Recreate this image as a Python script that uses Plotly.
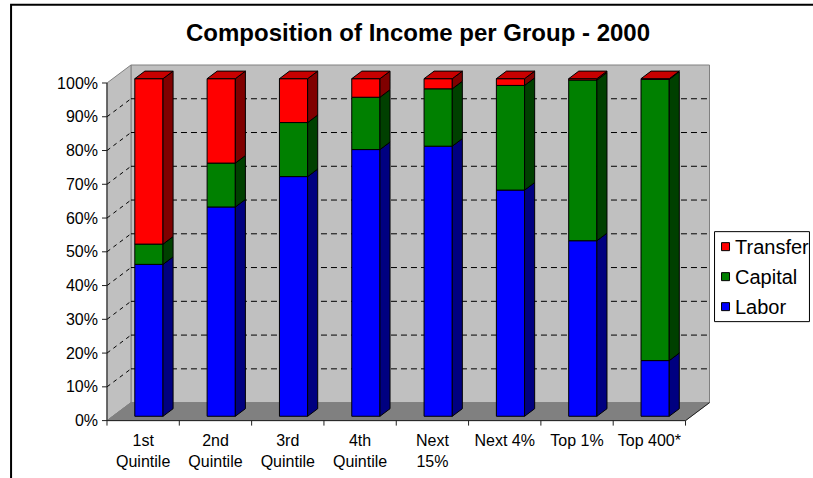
import plotly.graph_objects as go

# ---------------- data ----------------
categories = ["1st<br>Quintile", "2nd<br>Quintile", "3rd<br>Quintile", "4th<br>Quintile",
              "Next<br>15%", "Next 4%", "Top 1%", "Top 400*"]
series_names = ["Labor", "Capital", "Transfer"]
labor = [45, 62, 71, 79, 80, 67, 52, 16.5]
capital = [6, 13, 16, 15.5, 17, 31, 47.6, 83.3]
transfer = [49, 25, 13, 5.5, 3, 2, 0.4, 0.2]
y_tick_values = [0, 10, 20, 30, 40, 50, 60, 70, 80, 90, 100]
y_tick_labels = ["0%", "10%", "20%", "30%", "40%", "50%", "60%", "70%", "80%", "90%", "100%"]
title_text = "Composition of Income per Group - 2000"

# ---------------- style ----------------
front_colors = ["#0000FF", "#008000", "#FF0000"]
side_colors = ["#000080", "#004000", "#800000"]
top_color = "#C80000"
wall_color = "#C0C0C0"
floor_color = "#808080"
FONT = "Liberation Sans, Arial, sans-serif"

W, H = 813, 478
PXX = 72.37   # px per category
PXY = 3.377   # px per percent
X0PX = 107    # pixel of x=-0.5
Y0PX = 421    # pixel of y=0
DX = 24 / PXX
DY = 18 / PXY
F0, F1 = 0.24, 0.66
HW = 0.195
n = len(categories)

XMIN = -0.5 - 8 / PXX
XMAX = n - 0.5 + DX + 1.5 / PXX
YMIN = -8.4 / PXY
YMAX = 100 + DY + 1.0 / PXY
L = X0PX - 8
R = L + (XMAX - XMIN) * PXX
T = Y0PX - YMAX * PXY
B = Y0PX - YMIN * PXY


def px(xp):
    return (xp - L) / (R - L)


def py(yp):
    return (B - yp) / (B - T)


def P(x, y, f):
    return x + f * DX, y + f * DY


def path(pts):
    return "M " + " L ".join(f"{a},{b}" for a, b in pts) + " Z"


fig = go.Figure()

series = [labor, capital, transfer]
cum = [0.0] * n
segs = []
for k, vals in enumerate(series):
    fig.add_trace(go.Bar(
        x=[i + F0 * DX for i in range(n)],
        y=vals,
        base=[c + F0 * DY for c in cum],
        width=2 * HW,
        marker=dict(color=front_colors[k], line=dict(color="black", width=1)),
        name=series_names[k], showlegend=False, hoverinfo="skip"))
    segs.append([(cum[i], cum[i] + vals[i]) for i in range(n)])
    cum = [cum[i] + vals[i] for i in range(n)]

# side faces
for k in range(len(series)):
    xs, ys = [], []
    for i in range(n):
        lo, hi = segs[k][i]
        pts = [P(i + HW, lo, F0), P(i + HW, lo, F1), P(i + HW, hi, F1), P(i + HW, hi, F0), P(i + HW, lo, F0)]
        xs += [p[0] for p in pts] + [None]
        ys += [p[1] for p in pts] + [None]
    fig.add_trace(go.Scatter(x=xs, y=ys, mode="lines", fill="toself", fillcolor=side_colors[k],
                             line=dict(color="black", width=1), showlegend=False, hoverinfo="skip"))

# top faces
xs, ys = [], []
for i in range(n):
    t = cum[i]
    pts = [P(i - HW, t, F0), P(i + HW, t, F0), P(i + HW, t, F1), P(i - HW, t, F1), P(i - HW, t, F0)]
    xs += [p[0] for p in pts] + [None]
    ys += [p[1] for p in pts] + [None]
fig.add_trace(go.Scatter(x=xs, y=ys, mode="lines", fill="toself", fillcolor=top_color,
                         line=dict(color="black", width=1), showlegend=False, hoverinfo="skip"))

shapes = []
xl, xr = -0.5, n - 0.5
# walls
shapes.append(dict(type="path", path=path([P(xl, 0, 1), P(xr, 0, 1), P(xr, 100, 1), P(xl, 100, 1)]),
                   fillcolor=wall_color, line=dict(color="#808080", width=1), layer="below"))
shapes.append(dict(type="path", path=path([(xl, 0), P(xl, 0, 1), P(xl, 100, 1), (xl, 100)]),
                   fillcolor=wall_color, line=dict(color="#808080", width=1), layer="below"))
shapes.append(dict(type="path", path=path([(xl, 0), (xr, 0), P(xr, 0, 1), P(xl, 0, 1)]),
                   fillcolor=floor_color, line=dict(color=floor_color, width=1), layer="below"))
# gridlines
for v in y_tick_values[1:-1]:
    a, b = P(xl, v, 1)
    c, d = P(xr, v, 1)
    shapes.append(dict(type="line", x0=a, y0=b, x1=c, y1=d, line=dict(color="black", width=1, dash="6px,4px"),
                       layer="below"))
    shapes.append(dict(type="line", x0=xl, y0=v, x1=a, y1=b, line=dict(color="black", width=1, dash="4px,4px"),
                       layer="below"))
# floor right edge
a, b = P(xr, 0, 1)
shapes.append(dict(type="line", x0=xr, y0=0, x1=a, y1=b, line=dict(color="#202020", width=1), layer="below"))
# y axis line and ticks
shapes.append(dict(type="line", x0=xl, y0=0, x1=xl, y1=100, line=dict(color="#202020", width=1), layer="below"))
for v in y_tick_values:
    shapes.append(dict(type="line", x0=xl - 5 / PXX, y0=v, x1=xl, y1=v, line=dict(color="#202020", width=1),
                       layer="below"))
# x axis line and ticks
shapes.append(dict(type="line", x0=xl, y0=0, x1=xr, y1=0, line=dict(color="#202020", width=1), layer="below"))
for i in range(n + 1):
    shapes.append(dict(type="line", x0=i - 0.5, y0=0, x1=i - 0.5, y1=-5 / PXY, line=dict(color="#202020", width=1),
                       layer="below"))

# outer border
shapes.append(dict(type="rect", xref="paper", yref="paper", x0=px(11), y0=py(500), x1=px(830), y1=py(5),
                   line=dict(color="black", width=2), fillcolor="rgba(0,0,0,0)", layer="below"))

# legend (custom)
annotations = []
shapes.append(dict(type="rect", xref="paper", yref="paper", x0=px(715), y0=py(322), x1=px(810), y1=py(232),
                   line=dict(color="black", width=1), fillcolor="white"))
leg_y = [247, 277, 307]
for j, k in enumerate([2, 1, 0]):
    yc = leg_y[j]
    shapes.append(dict(type="rect", xref="paper", yref="paper", x0=px(722), y0=py(yc + 4), x1=px(730),
                       y1=py(yc - 4), line=dict(color="black", width=1), fillcolor=front_colors[k]))
    annotations.append(dict(text=series_names[k], xref="paper", yref="paper", x=px(733), y=py(yc),
                            xanchor="left", yanchor="middle", showarrow=False,
                            font=dict(family=FONT, size=20, color="black")))

annotations.append(dict(text="<b>" + title_text + "</b>", xref="paper", yref="paper", x=px(418), y=py(33),
                        xanchor="center", yanchor="middle", showarrow=False,
                        font=dict(family=FONT, size=24, color="black")))

fig.update_layout(
    width=W, height=H, autosize=False,
    margin=dict(l=L, r=W - R, t=T, b=H - B, pad=0),
    paper_bgcolor="white", plot_bgcolor="white",
    barmode="overlay", showlegend=False,
    shapes=shapes, annotations=annotations,
    font=dict(family=FONT, size=16, color="black"),
    xaxis=dict(range=[XMIN, XMAX], tickmode="array", tickvals=list(range(n)), ticktext=categories,
               ticks="", showgrid=False, zeroline=False, showline=False, automargin=False,
               tickfont=dict(family=FONT, size=16, color="black")),
    yaxis=dict(range=[YMIN, YMAX], tickmode="array", tickvals=y_tick_values, ticktext=y_tick_labels,
               ticks="", showgrid=False, zeroline=False, showline=False, automargin=False,
               tickfont=dict(family=FONT, size=16, color="black")),
)

fig.write_html("out.html")
